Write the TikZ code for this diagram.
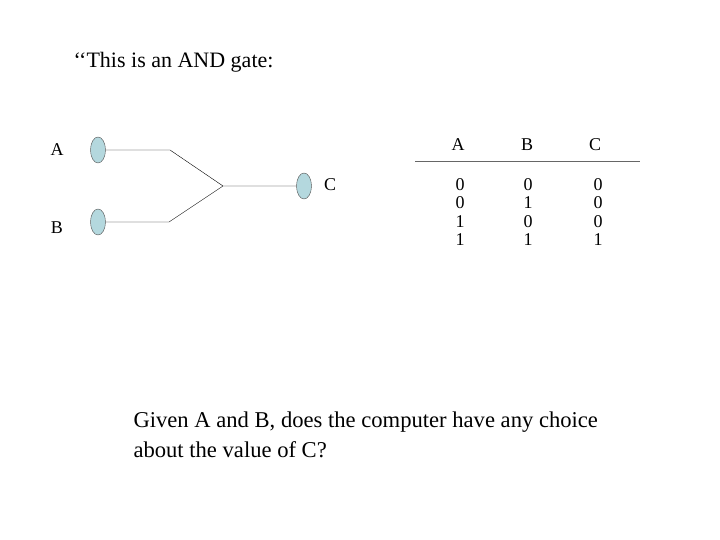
\documentclass[tikz,border=0pt]{standalone}
\usepackage{fontspec}
\setmainfont{Liberation Serif}
\usetikzlibrary{shapes.geometric}
\definecolor{pinfill}{HTML}{B4D8DE}
\begin{document}
\begin{tikzpicture}[x=1pt,y=-1pt,
  pin/.style={ellipse,draw=black!70,fill=pinfill,minimum width=15pt,minimum height=26pt,inner sep=0pt},
  lab/.style={font=\fontsize{18}{20}\selectfont},
  dig/.style={font=\fontsize{18}{18}\selectfont,inner sep=0pt}]
\useasboundingbox (0,0) rectangle (720,540);
\node[anchor=west,font=\fontsize{22}{24}\selectfont] (title) at (70,62) {{\char96}{\char96}This is an AND gate:};
\node[pin] (pa) at (98,150) {};
\node[pin] (pb) at (98,222) {};
\node[pin] (pc) at (304,186) {};
\node[lab] (la) at (57,150) {A};
\node[lab] (lb) at (57,228) {B};
\node[lab] (lc) at (330,185) {C};
\coordinate (a1) at (170,150);
\coordinate (b1) at (169,222);
\coordinate (j) at (223,186);
\draw (pa.east) -- (a1) -- (j) -- (pc.west);
\draw (pb.east) -- (b1) -- (j);
\node[lab] (ha) at (458,145) {A};
\node[lab] (hb) at (527,145) {B};
\node[lab] (hc) at (595,145) {C};
\coordinate (t1) at (415,161);
\coordinate (t2) at (640,161);
\draw[black!60] (t1) -- (t2);
\foreach \x/\c [count=\i] in {460/{0,0,1,1},528/{0,1,0,1},598/{0,0,0,1}}{
  \foreach \v [count=\j] in \c {
    \node[dig] (d\i\j) at (\x,{166+18.5*\j}) {\v};
  }
}
\node[anchor=west,align=left,font=\fontsize{22.6}{30}\selectfont] (q) at (130,435) {Given A and B, does the computer have any choice\\about the value of C?};
\end{tikzpicture}
\end{document}
